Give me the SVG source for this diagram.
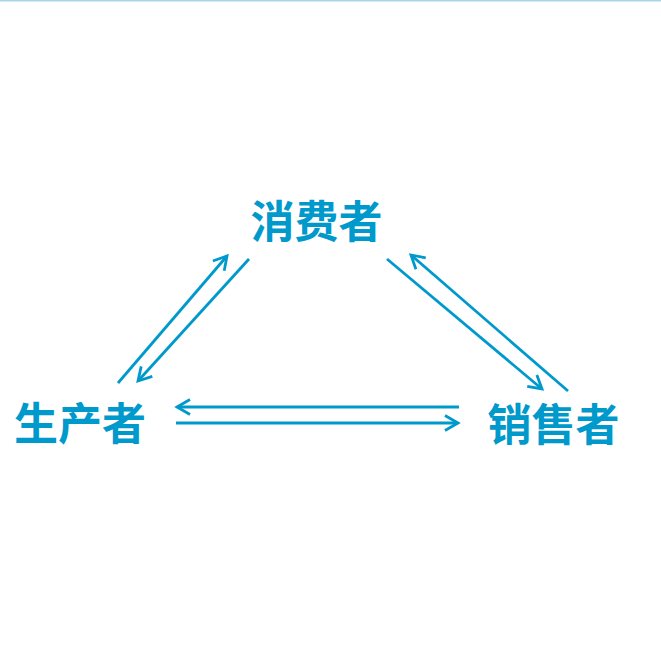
<svg xmlns="http://www.w3.org/2000/svg" width="661" height="661" viewBox="0 0 661 661">
<style>
.lbl{font-family:"Noto Sans CJK SC","Noto Sans",sans-serif;font-weight:bold;font-size:44px;fill:#0099cc;text-anchor:middle}
.c{stroke:#0099cc;stroke-width:2.8;fill:none}
</style>
<defs>
<marker id="ah" markerUnits="userSpaceOnUse" viewBox="-16 -10 20 20" refX="0" refY="0" markerWidth="20" markerHeight="20" orient="auto">
<path d="M-13,-7.5 L0,0 L-13,7.5" fill="none" stroke="#0099cc" stroke-width="2.8"/>
</marker>
</defs>
<rect x="0" y="0" width="661" height="661" fill="#ffffff"/>
<line x1="0" y1="0.75" x2="661" y2="0.75" stroke="#a8d4ee" stroke-width="1.5"/>
<g id="consumer"><text class="lbl" x="316.5" y="238">消费者</text></g>
<g id="producer"><text class="lbl" x="80" y="440">生产者</text></g>
<g id="seller"><text class="lbl" x="553.5" y="441">销售者</text></g>
<g id="connectors">
<line class="c" x1="118" y1="383" x2="227" y2="256" marker-end="url(#ah)"/>
<line class="c" x1="249" y1="259" x2="138" y2="381" marker-end="url(#ah)"/>
<line class="c" x1="387" y1="259" x2="542" y2="389" marker-end="url(#ah)"/>
<line class="c" x1="568" y1="391" x2="411" y2="255" marker-end="url(#ah)"/>
<line class="c" x1="459" y1="407" x2="177" y2="407" marker-end="url(#ah)"/>
<line class="c" x1="176" y1="423" x2="458" y2="423" marker-end="url(#ah)"/>
</g>
</svg>
